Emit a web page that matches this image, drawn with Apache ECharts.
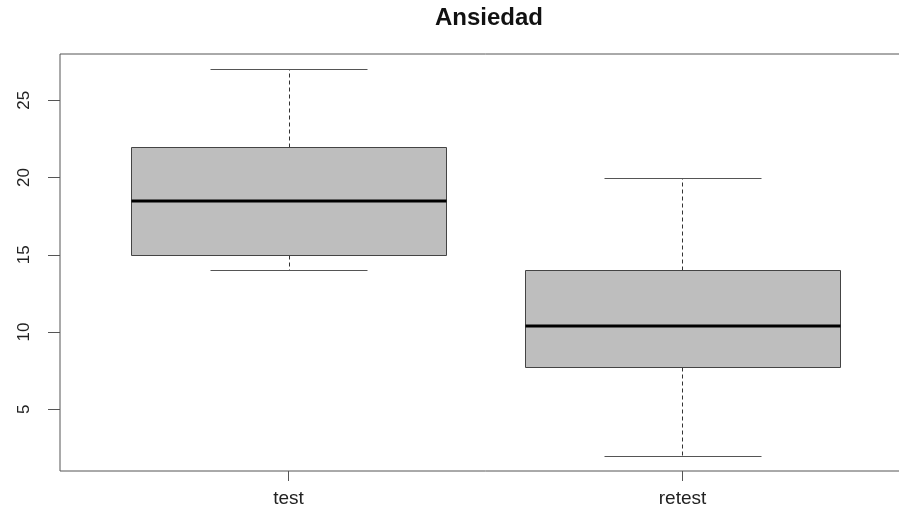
<!DOCTYPE html>
<html>
<head>
<meta charset="utf-8">
<script src="https://cdn.jsdelivr.net/npm/echarts@6/dist/echarts.min.js"></script>
<style>
  html, body { margin: 0; padding: 0; background: #ffffff; overflow: hidden; }
  /* the plot frame extends a little past the right edge of the window */
  #chart { width: 912px; height: 510px; }
</style>
</head>
<body>
<div id="chart"></div>
<script>
// Five-number summaries per group (R-style boxplot)
const categories = ['test', 'retest'];
const whiskerLow = [14, 2];
const lowerQuartile = [15, 7.75];
const median = [18.5, 10.4];
const upperQuartile = [22, 14];
const whiskerHigh = [27, 20];
const yTickValues = [5, 10, 15, 20, 25];
const xTickValues = [1, 2];

const boxData = categories.map((c, i) => [
  i + 1, whiskerLow[i], lowerQuartile[i], median[i], upperQuartile[i], whiskerHigh[i]
]);

const BOX_HALF = 0.4;
const CAP_HALF = 0.2;
const INK = '#333';
const FRAME = '#555';

function crisp(v) { return Math.round(v) + 0.5; }

function renderBox(params, api) {
  const x = api.value(0);
  const lo = api.value(1), q1 = api.value(2), med = api.value(3), q3 = api.value(4), hi = api.value(5);
  const pt = (xx, yy) => api.coord([xx, yy]);
  const cx = crisp(pt(x, 0)[0]);
  const left = crisp(pt(x - BOX_HALF, 0)[0]);
  const right = crisp(pt(x + BOX_HALF, 0)[0]);
  const capL = crisp(pt(x - CAP_HALF, 0)[0]);
  const capR = crisp(pt(x + CAP_HALF, 0)[0]);
  const yLo = crisp(pt(x, lo)[1]);
  const yQ1 = crisp(pt(x, q1)[1]);
  const yMed = Math.round(pt(x, med)[1]);
  const yQ3 = crisp(pt(x, q3)[1]);
  const yHi = crisp(pt(x, hi)[1]);
  const dashed = { stroke: INK, lineWidth: 1, lineDash: [4, 3] };
  const solid = { stroke: '#555', lineWidth: 1 };
  return {
    type: 'group',
    children: [
      { type: 'line', shape: { x1: cx, y1: yQ3, x2: cx, y2: yHi }, style: dashed },
      { type: 'line', shape: { x1: cx, y1: yQ1, x2: cx, y2: yLo }, style: dashed },
      { type: 'line', shape: { x1: capL, y1: yHi, x2: capR, y2: yHi }, style: solid },
      { type: 'line', shape: { x1: capL, y1: yLo, x2: capR, y2: yLo }, style: solid },
      { type: 'rect', shape: { x: left, y: yQ3, width: right - left, height: yQ1 - yQ3 },
        style: { fill: '#bebebe', stroke: '#444', lineWidth: 1 } },
      { type: 'line', shape: { x1: left, y1: yMed, x2: right, y2: yMed },
        style: { stroke: '#000', lineWidth: 3 } }
    ]
  };
}

const chart = echarts.init(document.getElementById('chart'), null, { renderer: 'canvas' });
chart.setOption({
  animation: false,
  backgroundColor: '#ffffff',
  title: {
    text: 'Ansiedad',
    left: 484, top: 1, textAlign: 'center',
    textStyle: { fontFamily: 'Liberation Sans', fontWeight: 'bold', fontSize: 24, color: '#111' }
  },
  grid: {
    left: 60, top: 54, width: 851, height: 417,
    show: true, borderColor: FRAME, borderWidth: 1, backgroundColor: 'transparent'
  },
  xAxis: {
    type: 'value', min: 0.42, max: 2.58,
    splitLine: { show: false },
    axisLine: { show: false },
    axisTick: { show: true, customValues: xTickValues, length: 10, lineStyle: { color: FRAME } },
    axisLabel: {
      customValues: xTickValues,
      formatter: v => categories[Math.round(v) - 1] || '',
      margin: 18, fontFamily: 'Liberation Sans', fontSize: 19, color: '#222'
    }
  },
  yAxis: {
    type: 'value', min: 1, max: 28,
    splitLine: { show: false },
    axisLine: { show: false },
    axisTick: { show: true, customValues: yTickValues, length: 12, lineStyle: { color: FRAME } },
    axisLabel: {
      customValues: yTickValues, rotate: 90, margin: 27,
      fontFamily: 'Liberation Sans', fontSize: 17, color: '#222'
    }
  },
  series: [{
    type: 'custom',
    renderItem: renderBox,
    encode: { x: 0, y: [1, 2, 3, 4, 5] },
    data: boxData,
    clip: false
  }]
});
</script>
</body>
</html>
